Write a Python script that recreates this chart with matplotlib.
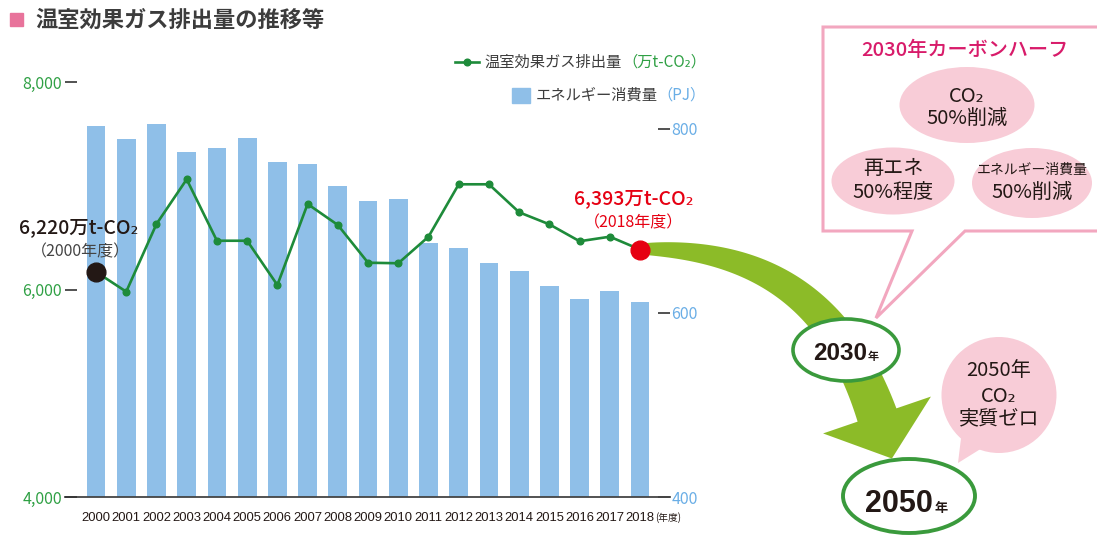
import matplotlib

matplotlib.use("Agg")
import matplotlib.pyplot as plt
import numpy as np
from matplotlib import font_manager
from matplotlib.patches import Ellipse, Polygon, Rectangle

W, H = 1097, 536

years = [str(y) for y in range(2000, 2019)]
energy_pj = [803, 789, 805, 775, 779, 790, 764, 762, 738, 722,
             724, 676, 671, 654, 646, 629, 615, 624, 612]
emissions = [6170, 5979, 6631, 7062, 6470, 6470, 6043, 6824, 6622, 6258,
             6253, 6509, 7014, 7014, 6744, 6628, 6465, 6509, 6385]
left_ticks = [4000, 6000, 8000]
right_ticks = [400, 600, 800]
start_label = ["6,220万t-CO₂", "（2000年度）"]
end_label = ["6,393万t-CO₂", "（2018年度）"]

JP = ["Noto Sans CJK JP", "DejaVu Sans"]
installed = {f.name for f in font_manager.fontManager.ttflist}
if "Liberation Sans Narrow" in installed:
    YEAR_FONT, YEAR_SIZE = ["Liberation Sans Narrow"], 11.5
else:
    YEAR_FONT, YEAR_SIZE = ["Liberation Sans"], 9.4

GREEN_LINE = "#1e8b3a"
GREEN_TXT = "#2fa044"
BLUE_BAR = "#8fbfe8"
BLUE_TXT = "#6aaee6"
RED = "#e60012"
DARK = "#231815"
PINK_EDGE = "#f2a7bf"
PINK_FILL = "#f8ccd7"
MAGENTA = "#d81b6a"
ARROW = "#8cbb28"

plt.rcParams["font.family"] = JP


def px_rect(x0, y0, x1, y1):
    return [x0 / W, 1 - y1 / H, (x1 - x0) / W, (y1 - y0) / H]


fig = plt.figure(figsize=(W / 100, H / 100), dpi=100)

# overlay in pixel coords for the decorations
ov = fig.add_axes([0, 0, 1, 1])
ov.set_xlim(0, W)
ov.set_ylim(H, 0)
ov.axis("off")

# --- main chart: bars on the right axis, line on the left axis ---
ax = fig.add_axes(px_rect(65, 82, 670, 497))
ax.patch.set_visible(False)
x = np.arange(len(years))
ax.bar(x, energy_pj, width=0.62, color=BLUE_BAR, zorder=1)
ax.set_xlim(-1.026, 18.99)
ax.set_ylim(400, 851)

ax2 = ax.twinx()
ax2.patch.set_visible(False)

ax.yaxis.tick_right()
ax.set_yticks(right_ticks, [str(v) for v in right_ticks])
ax.tick_params(axis="y", direction="in", length=9, width=1.2, color="#333333",
               labelcolor=BLUE_TXT, labelsize=11.5, pad=1)
ax.set_xticks(x, years)
ax.tick_params(axis="x", length=0, pad=11, labelsize=YEAR_SIZE, labelcolor=DARK)
for lab in ax.get_xticklabels():
    lab.set_fontfamily(YEAR_FONT)
for side in ["top", "left", "right"]:
    ax.spines[side].set_visible(False)
ax.spines["bottom"].set_color("#444444")
ax.spines["bottom"].set_linewidth(1.3)
ax.annotate("(年度)", xy=(x[-1], 400), xytext=(15, -21), textcoords="offset pixels",
            fontsize=7, color=DARK, ha="left", va="center")

ax2.yaxis.tick_left()
ax2.set_ylim(4000, 8000)
ax2.set_yticks(left_ticks, [f"{v:,}" for v in left_ticks])
ax2.tick_params(axis="y", direction="in", length=8.5, width=1.2, color="#333333",
                labelcolor=GREEN_TXT, labelsize=11.5, pad=2)
for side in ax2.spines:
    ax2.spines[side].set_visible(False)
ax2.plot(x, emissions, color=GREEN_LINE, lw=1.9, marker="o", ms=4.8, zorder=3)
ax2.plot(x[0], emissions[0], "o", ms=13.5, color=DARK, zorder=5)
ax2.plot(x[-1], emissions[-1], "o", ms=13.5, color=RED, zorder=5)

ax2.annotate(start_label[0], xy=(x[0], emissions[0]), xytext=(-17, 44),
             textcoords="offset pixels", ha="center", va="center",
             fontsize=14, fontweight="medium", color=DARK)
ax2.annotate(start_label[1], xy=(x[0], emissions[0]), xytext=(-16, 20),
             textcoords="offset pixels", ha="center", va="center",
             fontsize=11.5, color="#444444")
ax2.annotate(end_label[0], xy=(x[-1], emissions[-1]), xytext=(-6, 51),
             textcoords="offset pixels", ha="center", va="center",
             fontsize=14, fontweight="medium", color=RED)
ax2.annotate(end_label[1], xy=(x[-1], emissions[-1]), xytext=(-7, 27),
             textcoords="offset pixels", ha="center", va="center",
             fontsize=11.5, color=RED)

# --- title ---
ov.add_patch(Rectangle((10, 13), 13, 13, color="#e8739b"))
ov.text(35, 20, "温室効果ガス排出量の推移等", fontsize=16, fontweight="bold",
        color="#3c3c3c", va="center", ha="left")

# --- legend ---
ov.plot([455, 479], [62, 62], color=GREEN_LINE, lw=1.9)
ov.plot([467], [62], "o", color=GREEN_LINE, ms=4.8)
u1 = ov.text(706, 62, "（万t-CO₂）", fontsize=11, color=GREEN_TXT,
             ha="right", va="center")
ov.annotate("温室効果ガス排出量", xy=(0, 0.5), xycoords=u1, fontsize=11,
            color="#3c3c3c", ha="right", va="center")
ov.add_patch(Rectangle((512, 88), 18, 15, color=BLUE_BAR))
u2 = ov.text(706, 95, "（PJ）", fontsize=11, color=BLUE_TXT,
             ha="right", va="center")
ov.annotate("エネルギー消費量", xy=(0, 0.5), xycoords=u2, fontsize=11,
            color="#3c3c3c", ha="right", va="center")

# --- curved arrow from 2018 toward 2050 ---
P = np.array([[643, 249], [760, 249], [837, 298], [877, 415]], dtype=float)
t = np.linspace(0, 1, 80)[:, None]
pts = ((1 - t) ** 3 * P[0] + 3 * (1 - t) ** 2 * t * P[1]
       + 3 * (1 - t) * t ** 2 * P[2] + t ** 3 * P[3])
der = (3 * (1 - t) ** 2 * (P[1] - P[0]) + 6 * (1 - t) * t * (P[2] - P[1])
       + 3 * t ** 2 * (P[3] - P[2]))
tan = der / np.linalg.norm(der, axis=1, keepdims=True)
nrm = np.column_stack([-tan[:, 1], tan[:, 0]])
half = (11 + 30 * t[:, 0] ** 0.75) / 2
side_a = pts + nrm * half[:, None]
side_b = pts - nrm * half[:, None]
d = tan[-1]
n = nrm[-1]
head = [P[3] + n * 57, P[3] + d * 46, P[3] - n * 57]
shape = np.vstack([side_a, head, side_b[::-1]])
ov.add_patch(Polygon(shape, closed=True, color=ARROW, lw=0, zorder=2))

# --- callout box ---
callout = [(823, 27), (1105, 27), (1105, 231), (965, 231), (876, 318),
           (912, 231), (823, 231)]
ov.add_patch(Polygon(callout, closed=True, facecolor="white",
                     edgecolor=PINK_EDGE, lw=2.2, zorder=3))
ov.text(965, 50, "2030年カーボンハーフ", fontsize=14.5, fontweight="medium",
        color=MAGENTA, ha="center", va="center", zorder=5)

bubbles = [
    ((967, 105), 135, 76, ["CO₂", "50%削減"], [-9, 13], [14.5, 14.5]),
    ((893, 181), 123, 67, ["再エネ", "50%程度"], [-12, 11], [14.5, 14.5]),
    ((1032, 183), 120, 70, ["エネルギー消費量", "50%削減"], [-13, 9], [10, 14.5]),
]
for (cx, cy), bw, bh, lines, offs, sizes in bubbles:
    ov.add_patch(Ellipse((cx, cy), bw, bh, color=PINK_FILL, lw=0, zorder=4))
    for line, dy, fs in zip(lines, offs, sizes):
        ov.text(cx, cy + dy, line, fontsize=fs, color=DARK,
                ha="center", va="center", zorder=5)

# --- 2050 bubble ---
ov.add_patch(Polygon([(962, 430), (958, 463), (995, 440)], closed=True,
                     color=PINK_FILL, lw=0, zorder=3))
ov.add_patch(Ellipse((999, 395), 115, 116, color=PINK_FILL, lw=0, zorder=3))
for dy, line in zip([-24, 1, 24], ["2050年", "CO₂", "実質ゼロ"]):
    ov.text(999, 395 + dy, line, fontsize=14.5, color=DARK,
            ha="center", va="center", zorder=5)

# --- milestone ellipses ---
ov.add_patch(Ellipse((846, 350), 106, 62, facecolor="white",
                     edgecolor="#3a9a3c", lw=2.6, zorder=6))
ov.text(867, 360, "2030", fontsize=17.5, fontweight="bold", color=DARK,
        ha="right", va="baseline", zorder=7, fontfamily=["Liberation Sans"] + JP)
ov.text(868, 360, "年", fontsize=8, fontweight="bold", color=DARK,
        ha="left", va="baseline", zorder=7)

ov.add_patch(Ellipse((909, 496), 132, 74, facecolor="white",
                     edgecolor="#3a9a3c", lw=2.8, zorder=6))
ov.text(933, 512, "2050", fontsize=22, fontweight="bold", color=DARK,
        ha="right", va="baseline", zorder=7, fontfamily=["Liberation Sans"] + JP)
ov.text(935, 512, "年", fontsize=9.5, fontweight="bold", color=DARK,
        ha="left", va="baseline", zorder=7)

fig.savefig("out.png", dpi=100)
